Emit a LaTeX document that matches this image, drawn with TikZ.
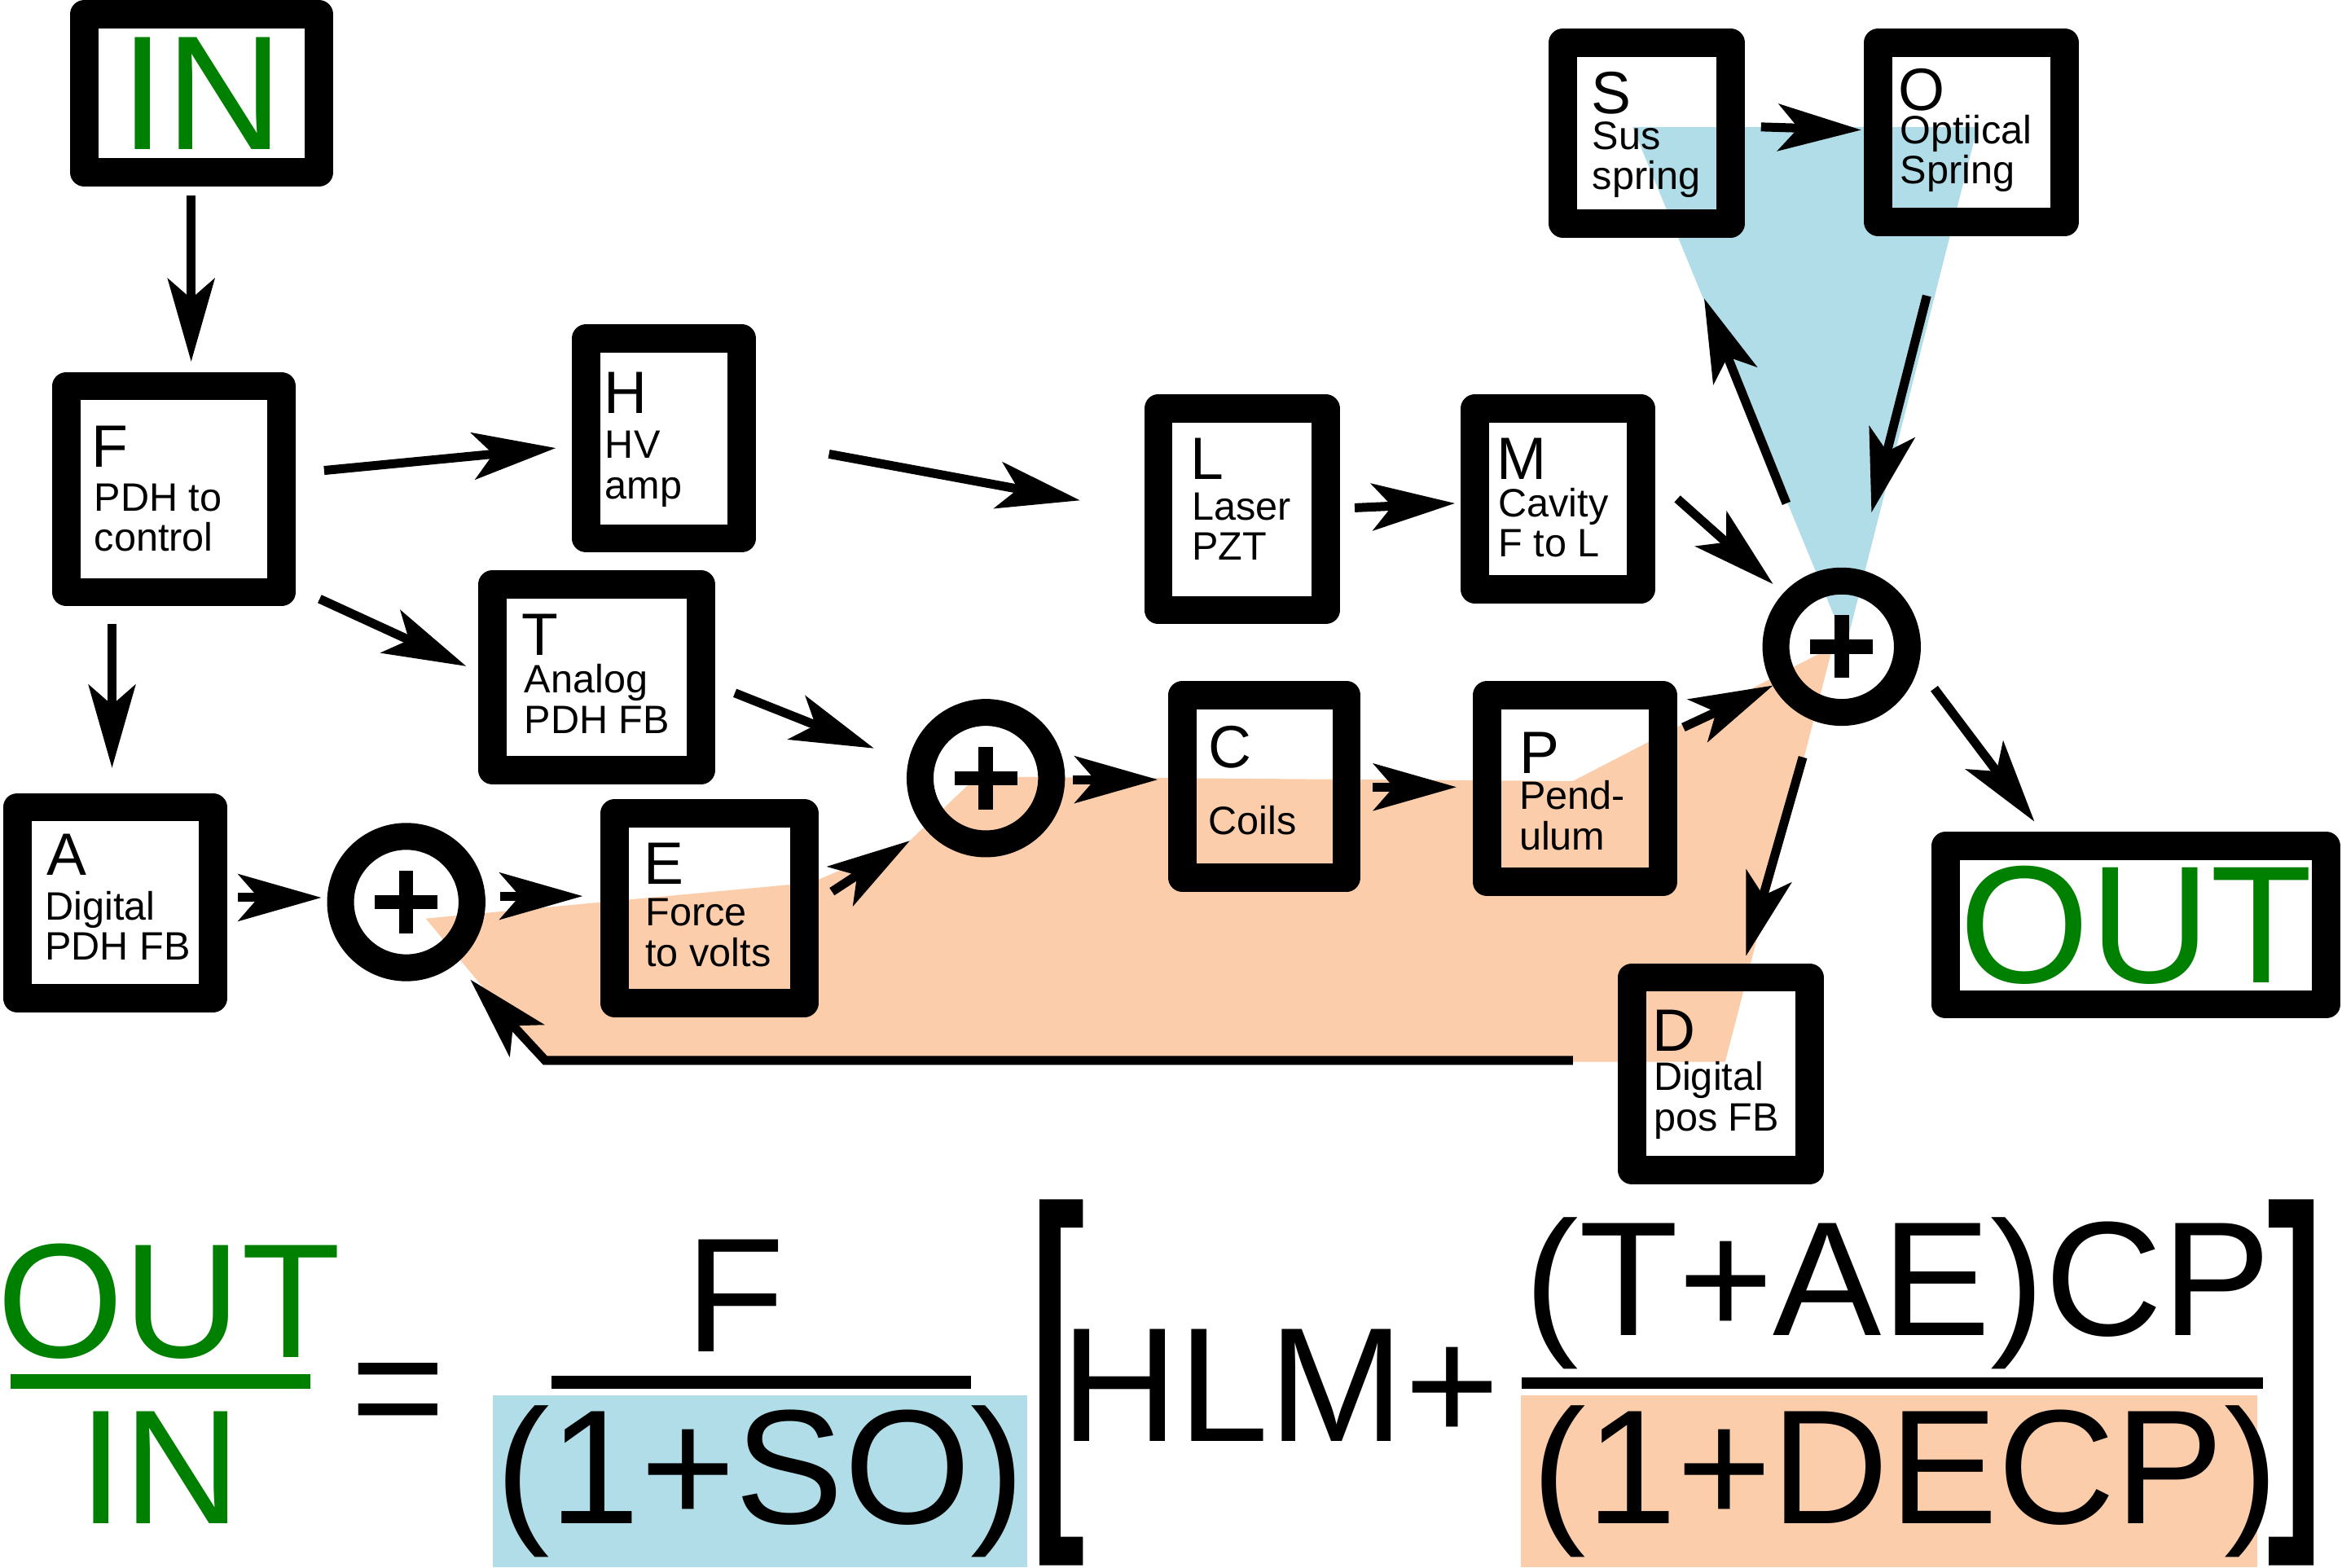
\documentclass[tikz,border=0pt]{standalone}
\usepackage{fontspec}
\setmainfont{Liberation Sans}
\usetikzlibrary{arrows.meta}
\definecolor{ingreen}{RGB}{0,128,0}
\definecolor{sopaint}{RGB}{176,221,232}
\definecolor{decppaint}{RGB}{252,205,170}
\begin{document}
\begin{tikzpicture}
  [x=1pt,y=-1pt,
   blk/.style={draw,line width=19pt,line join=round,inner sep=0pt,outer sep=9.5pt},
   adder/.style={draw,circle,line width=18pt,minimum size=88pt,inner sep=0pt,outer sep=9pt,
     path picture={\draw[line width=9.5pt] (path picture bounding box.center) +(-21pt,0pt) -- +(21pt,0pt)
       (path picture bounding box.center) +(0pt,-21pt) -- +(0pt,21pt);}},
   sig/.style={-{Stealth[length=56pt,width=32pt,inset=14pt,line width=0pt]},line width=6pt},
   blkid/.style={anchor=base west,inner sep=0pt,font=\fontsize{40}{48}\selectfont},
   blkdesc/.style={anchor=base west,inner sep=0pt,align=left,font=\fontsize{26.5}{27}\selectfont},
   eqn/.style={inner sep=0pt,anchor=base,font=\fontsize{109}{130}\selectfont}]
  \useasboundingbox (0,0) rectangle (1568,1049.4);
  % shaded loops
  \fill[decppaint] (285,615) -- (543,591) -- (609,563) -- (654,520) -- (1053,523)
    -- (1227,433) -- (1155,711) -- (365,711) -- cycle;
  \fill[sopaint] (1093,85) -- (1324,85) -- (1236,432) -- cycle;
  % blocks
  \node[blk,minimum width=157,minimum height=106,text=ingreen,font=\fontsize{109}{130}\selectfont] (IN) at (135,62.5) {IN};
  \node[blk,minimum width=144,minimum height=138] (F) at (116.5,327.5) {};
  \node[blk,minimum width=104,minimum height=134] (H) at (444.5,293.5) {};
  \node[blk,minimum width=140,minimum height=124] (T) at (399.5,453.5) {};
  \node[blk,minimum width=131,minimum height=128] (A) at (77,604.5) {};
  \node[blk,minimum width=127,minimum height=127] (E) at (475,608) {};
  \node[blk,minimum width=112,minimum height=135] (L) at (831.5,341) {};
  \node[blk,minimum width=111,minimum height=121] (M) at (1043,334) {};
  \node[blk,minimum width=110,minimum height=122] (C) at (846.5,526.5) {};
  \node[blk,minimum width=118,minimum height=125] (P) at (1054.5,528) {};
  \node[blk,minimum width=112,minimum height=121] (S) at (1102.5,89) {};
  \node[blk,minimum width=125,minimum height=120] (O) at (1320,88.5) {};
  \node[blk,minimum width=119,minimum height=129] (D) at (1152,719) {};
  \node[blk,minimum width=255,minimum height=106,text=ingreen,font=\fontsize{112}{130}\selectfont] (OUT) at (1430,619.5) {OUT};
  \node[adder] (s1) at (272,604) {};
  \node[adder] (s2) at (660,521) {};
  \node[adder] (s3) at (1233,433) {};
  % block texts
  \node[blkid] (F-id) at (61,313) {F};
  \node[blkdesc] (F-txt) at (63,369) {PDH to\\control};
  \node[blkid] (H-id) at (404,277) {H};
  \node[blkdesc] (H-txt) at (405,334) {HV\\amp};
  \node[blkid] (T-id) at (349,439) {T};
  \node[blkdesc] (T-txt) at (351,491) {Analog\\PDH FB};
  \node[blkid] (A-id) at (31,586) {A};
  \node[blkdesc] (A-txt) at (30,643) {Digital\\PDH FB};
  \node[blkid] (E-id) at (431,592) {E};
  \node[blkdesc] (E-txt) at (432,647) {Force\\to volts};
  \node[blkid] (L-id) at (797,321) {L};
  \node[blkdesc] (L-txt) at (798,375) {Laser\\PZT};
  \node[blkid] (M-id) at (1002,321) {M};
  \node[blkdesc] (M-txt) at (1003,373) {Cavity\\F to L};
  \node[blkid] (C-id) at (809,514) {C};
  \node[blkdesc] (C-txt) at (809,559) {Coils};
  \node[blkid] (P-id) at (1017,518) {P};
  \node[blkdesc] (P-txt) at (1017,569) {Pend-\\ulum};
  \node[blkid] (S-id) at (1065,76) {S};
  \node[blkdesc] (S-txt) at (1066,127) {Sus\\spring};
  \node[blkid] (O-id) at (1271,74) {O};
  \node[blkdesc] (O-txt) at (1272,123) {Optiical\\Spring};
  \node[blkid] (D-id) at (1106,704) {D};
  \node[blkdesc] (D-txt) at (1107,757) {Digital\\pos FB};
  % signal paths
  \draw[sig] ([shift={(-7,6)}]IN.south) -- ([shift={(11.5,-7)}]F.north);
  \draw[sig] ([shift={(19,-12.5)}]F.east) -- ([shift={(-11,6.5)}]H.west);
  \draw[sig] ([shift={(16,-5)}]F.south east) -- ([shift={(-8,-7.5)}]T.west);
  \draw[sig] ([shift={(-41.5,12)}]F.south) -- ([shift={(-2,-17)}]A.north);
  \draw[sig] ([shift={(49,10.5)}]H.east) -- ([shift={(-43,-6)}]L.west);
  \draw[sig] ([shift={(10,-1)}]L.east) -- ([shift={(-4,3)}]M.west);
  \draw[sig] ([shift={(15,0)}]M.east) -- ([shift={(-46,-42)}]s3.center);
  \draw[sig] ([shift={(13,10.5)}]T.east) -- ([shift={(-75,-20)}]s2.center);
  \draw[sig] ([shift={(7,-3.5)}]A.east) -- ([shift={(-57,-3)}]s1.center);
  \draw[sig] ([shift={(63,-4)}]s1.center) -- ([shift={(-12,-8)}]E.west);
  \draw[sig] ([shift={(9,-11)}]E.east) -- ([shift={(-51,42)}]s2.center);
  \draw[sig] ([shift={(58,1)}]s2.center) -- ([shift={(-7,-4.5)}]C.west);
  \draw[sig] ([shift={(8,0.5)}]C.east) -- ([shift={(-11,-1)}]P.west);
  \draw[sig] ([shift={(4,-41)}]P.east) -- ([shift={(-46,26)}]s3.center);
  \draw[sig] ([shift={(-37,-96)}]s3.center) -- ([shift={(38.5,41)}]S.south);
  \draw[sig] ([shift={(11,-4)}]S.east) -- ([shift={(-2,-1.5)}]O.west);
  \draw[sig] ([shift={(-30,40)}]O.south) -- ([shift={(20,-90)}]s3.center);
  \draw[sig] ([shift={(62,28)}]s3.center) -- ([shift={(-68,-7)}]OUT.north);
  \draw[sig] ([shift={(-26,74)}]s3.center) -- ([shift={(17,-5)}]D.north);
  \coordinate (fbk) at (365,710);
  \draw[sig] ([shift={(-30,-9)}]D.west) -- (fbk) -- ([shift={(43,52)}]s1.center);
  % transfer function
  \node[eqn,text=ingreen] (eqOut) at (113,909) {OUT};
  \fill[ingreen] (7,920) rectangle (208,930);
  \node[eqn,text=ingreen] (eqIn) at (107,1020) {IN};
  \node[eqn] (eqEq) at (266.5,966) {=};
  \node[eqn] (eqF) at (492,905) {F};
  \fill (369,921) rectangle (650,930);
  \fill[sopaint] (330,934) rectangle (688,1049.4);
  \node[eqn] (eqSO) at (509,1020) {(1+SO)};
  \fill (696,803) -| (725,822) -| (710,1029) -| (725,1048) -| cycle;
  \node[eqn,anchor=base west] (eqHLM) at (710,965) {HLM+};
  \node[eqn] (eqNum) at (1270.5,894) {(T+AE)CP};
  \fill (1019,922) rectangle (1515,930);
  \fill[decppaint] (1018,934) rectangle (1511,1049.4);
  \node[eqn] (eqDen) at (1275.5,1020) {(1+DECP)};
  \fill (1549,803) -| (1519,822) -| (1535,1029) -| (1519,1048) -| cycle;
\end{tikzpicture}
\end{document}
